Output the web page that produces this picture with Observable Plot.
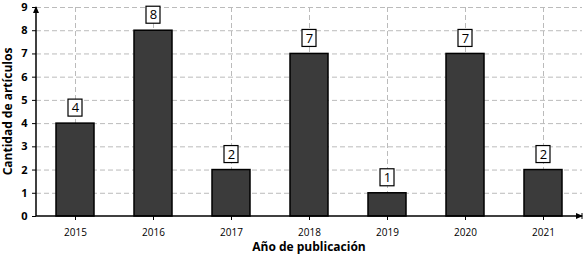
<!DOCTYPE html>
<html><head><meta charset="utf-8">
<script src="https://cdn.jsdelivr.net/npm/d3@7"></script>
<script src="https://cdn.jsdelivr.net/npm/@observablehq/plot@0.6"></script>
<style>body{margin:0;background:#fff}</style>
</head><body><div id="chart"></div>
<script>
const years = ["2015","2016","2017","2018","2019","2020","2021"];
const counts = [4, 8, 2, 7, 1, 7, 2];
const yTicks = [0,1,2,3,4,5,6,7,8,9];
const data = years.map((y, i) => ({year: y, count: counts[i]}));

const plot = Plot.plot({
  width: 586, height: 258,
  marginLeft: 36, marginRight: 4, marginTop: 7, marginBottom: 42,
  style: {fontFamily: "'Open Sans', sans-serif", background: "#fff", color: "#000"},
  x: {domain: years, paddingInner: 0.51, paddingOuter: 0.255, label: null},
  y: {domain: [0, 9], ticks: yTicks, label: null},
  marks: [
    Plot.gridY(yTicks.slice(1), {stroke: "#bbb", strokeOpacity: 1, strokeDasharray: "5,3"}),
    Plot.gridX(years, {stroke: "#bbb", strokeOpacity: 1, strokeDasharray: "5,3"}),
    Plot.barY(data, {x: "year", y: "count", fill: "#3b3b3b", stroke: "#000", strokeWidth: 1.5}),
    Plot.axisX({tickSize: 4, tickPadding: 8, fontSize: 10, label: null}),
    Plot.axisY({ticks: yTicks, tickSize: 4, tickPadding: 5, fontSize: 11, fontWeight: "bold", label: null}),
    Plot.barY(data, {x: "year", y1: "count", y2: "count", insetTop: -24, insetBottom: 7, insetLeft: 12, insetRight: 12, fill: "#fff", stroke: "#000", strokeWidth: 1.2}),
    Plot.text(data, {x: "year", y: "count", text: d => String(d.count), dy: -15.5, fontSize: 13, fill: "#000"})
  ]
});

const svg = d3.select(plot);
const xs = plot.scale("x"), ys = plot.scale("y");
const x0 = xs.range[0], x1 = xs.range[1];
const yb = ys.apply(0), yt = ys.apply(9);
const g = svg.append("g").attr("stroke", "#000").attr("fill", "#000");
g.append("line").attr("x1", x0).attr("x2", x0).attr("y1", yb).attr("y2", yt).attr("stroke-width", 1.5);
g.append("line").attr("x1", x0).attr("x2", x1).attr("y1", yb).attr("y2", yb).attr("stroke-width", 1.5);
g.append("path").attr("d", `M${x0},${yt-1}l-3,7h6z`).attr("stroke", "none");
g.append("path").attr("d", `M${x1+1},${yb}l-7,-3v6z`).attr("stroke", "none");
g.append("line").attr("x1", x1).attr("x2", x1).attr("y1", yb-3).attr("y2", yb+3).attr("stroke-width", 1);
svg.append("text").attr("x", (x0 + x1) / 2).attr("y", 251).attr("text-anchor", "middle")
  .attr("font-size", 12).attr("font-weight", "bold").text("Año de publicación");
svg.append("text").attr("transform", `translate(12,${(yb + yt) / 2}) rotate(-90)`).attr("text-anchor", "middle")
  .attr("font-size", 12).attr("font-weight", "bold").text("Cantidad de artículos");
document.getElementById("chart").appendChild(plot);
</script></body></html>
